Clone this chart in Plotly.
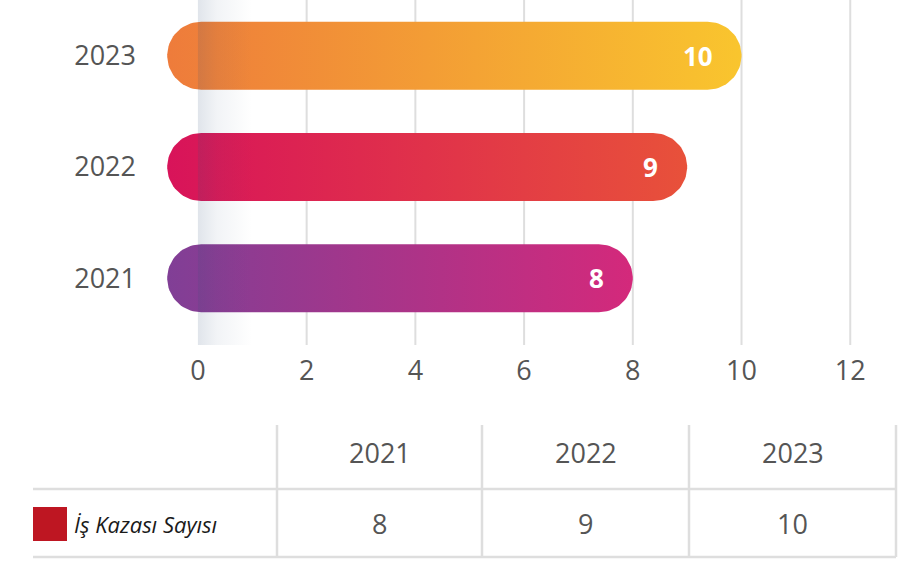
import numpy as np
import plotly.graph_objects as go

# ---- data ----
years = ["2021", "2022", "2023"]
accidents = [8, 9, 10]
series_name = "İş Kazası Sayısı"
x_ticks = [0, 2, 4, 6, 8, 10, 12]

# ---- styling ----
W, H = 909, 564
FONT = "Open Sans"
TICK_COLOR = "#555555"
GRID_COLOR = "#dedede"
bar_gradients = {
    "2021": ("#803F96", "#D4297B"),
    "2022": ("#D8135A", "#E8513A"),
    "2023": ("#EE7B3B", "#F9C52E"),
}
swatch_color = "#BE1622"

# plot area in pixels
PL, PR, PT, PB = 149, 872, 0, 345
x_range = [-0.9, 12.4]
y_range = [-0.6, 2.5]
px_per_x = (PR - PL) / (x_range[1] - x_range[0])
px_per_y = (PB - PT) / (y_range[1] - y_range[0])

BAR_RADIUS_PX = 34
rx = BAR_RADIUS_PX / px_per_x
ry = BAR_RADIUS_PX / px_per_y


def pill(y, value):
    """Rounded bar outline in data units, left cap centred near 0."""
    t_r = np.linspace(-np.pi / 2, np.pi / 2, 40)
    t_l = np.linspace(np.pi / 2, 3 * np.pi / 2, 40)
    left_c = 0.06
    xr = (value - rx) + rx * np.cos(t_r)
    yr = y + ry * np.sin(t_r)
    xl = left_c + rx * np.cos(t_l)
    yl = y + ry * np.sin(t_l)
    xs = np.concatenate([xr, xl, xr[:1]])
    ys = np.concatenate([yr, yl, yr[:1]])
    return xs, ys


fig = go.Figure()

for i, (yr_label, v) in enumerate(zip(years, accidents)):
    xs, ys = pill(i, v)
    c0, c1 = bar_gradients[yr_label]
    fig.add_trace(go.Scatter(
        x=xs, y=ys, mode="lines", fill="toself",
        line=dict(width=0, color=c1),
        fillgradient=dict(type="horizontal",
                          colorscale=[[0, c0], [1, c1]],
                          start=-rx, stop=v),
        hoverinfo="skip", showlegend=False,
    ))

# soft shadow band along the zero line
fig.add_trace(go.Scatter(
    x=[0, 1.0, 1.0, 0, 0], y=[y_range[0], y_range[0], y_range[1], y_range[1], y_range[0]],
    mode="lines", fill="toself", line=dict(width=0, color="rgba(0,0,0,0)"),
    fillgradient=dict(type="horizontal",
                      colorscale=[[0, "rgba(50,80,120,0.15)"], [0.35, "rgba(50,80,120,0.065)"],
                                  [1, "rgba(50,80,120,0)"]],
                      start=0, stop=1.0),
    hoverinfo="skip", showlegend=False,
))

# value labels inside bar ends
for i, v in enumerate(accidents):
    fig.add_annotation(x=v, y=i, xref="x", yref="y", text=f"<b>{v}</b>",
                       showarrow=False, xanchor="right", yanchor="middle", xshift=-27,
                       font=dict(family=FONT, size=26, color="white"))

# vertical grid lines (no line at zero)
for t in x_ticks:
    if t == 0:
        continue
    fig.add_shape(type="line", xref="x", yref="y", x0=t, x1=t,
                  y0=y_range[0], y1=y_range[1],
                  line=dict(color=GRID_COLOR, width=2), layer="below")

# ---- table below the chart ----
def px_x(p):
    return p / W


def px_y(p):
    return 1 - p / H


TBL_LEFT, TBL_RIGHT = 33, 896
TBL_TOP, TBL_MID, TBL_BOT = 425, 489, 557
col_edges = [277, 482, 689, 896]
line_style = dict(color=GRID_COLOR, width=2.5)

for yline in (TBL_MID, TBL_BOT):
    fig.add_shape(type="line", xref="paper", yref="paper",
                  x0=px_x(TBL_LEFT), x1=px_x(TBL_RIGHT),
                  y0=px_y(yline), y1=px_y(yline), line=line_style)
for xline in col_edges:
    fig.add_shape(type="line", xref="paper", yref="paper",
                  x0=px_x(xline), x1=px_x(xline),
                  y0=px_y(TBL_TOP), y1=px_y(TBL_BOT), line=line_style)

for j, (yr_label, v) in enumerate(zip(years, accidents)):
    cx = (col_edges[j] + col_edges[j + 1]) / 2
    fig.add_annotation(x=px_x(cx), y=px_y((TBL_TOP + TBL_MID) / 2 - 5),
                       xref="paper", yref="paper", text=yr_label, showarrow=False,
                       xanchor="center", yanchor="middle",
                       font=dict(family=FONT, size=27, color=TICK_COLOR))
    fig.add_annotation(x=px_x(cx), y=px_y((TBL_MID + TBL_BOT) / 2),
                       xref="paper", yref="paper", text=str(v), showarrow=False,
                       xanchor="center", yanchor="middle",
                       font=dict(family=FONT, size=27, color=TICK_COLOR))

# legend swatch + series label
fig.add_shape(type="rect", xref="paper", yref="paper",
              x0=px_x(33), x1=px_x(67), y0=px_y(541), y1=px_y(507),
              fillcolor=swatch_color, line=dict(width=0))
fig.add_annotation(x=px_x(72), y=px_y(524), xref="paper", yref="paper",
                   text=f"<i>{series_name}</i>", showarrow=False,
                   xanchor="left", yanchor="middle",
                   font=dict(family=FONT, size=22, color="#1a1a1a"))

fig.update_layout(
    width=W, height=H,
    margin=dict(l=0, r=0, t=0, b=0),
    paper_bgcolor="white", plot_bgcolor="white",
    template="none",
    showlegend=False,
    xaxis=dict(domain=[PL / W, PR / W], range=x_range, tickvals=x_ticks,
               showgrid=False, zeroline=False, showline=False, ticks="",
               automargin=False, ticklabelstandoff=7,
               tickfont=dict(family=FONT, size=27, color=TICK_COLOR), fixedrange=True),
    yaxis=dict(domain=[1 - PB / H, 1 - PT / H], range=y_range,
               tickvals=list(range(len(years))), ticktext=years,
               showgrid=False, zeroline=False, showline=False, ticks="",
               automargin=False, ticklabelstandoff=12,
               tickfont=dict(family=FONT, size=27, color=TICK_COLOR), fixedrange=True),
)

fig.write_html("out.html")
